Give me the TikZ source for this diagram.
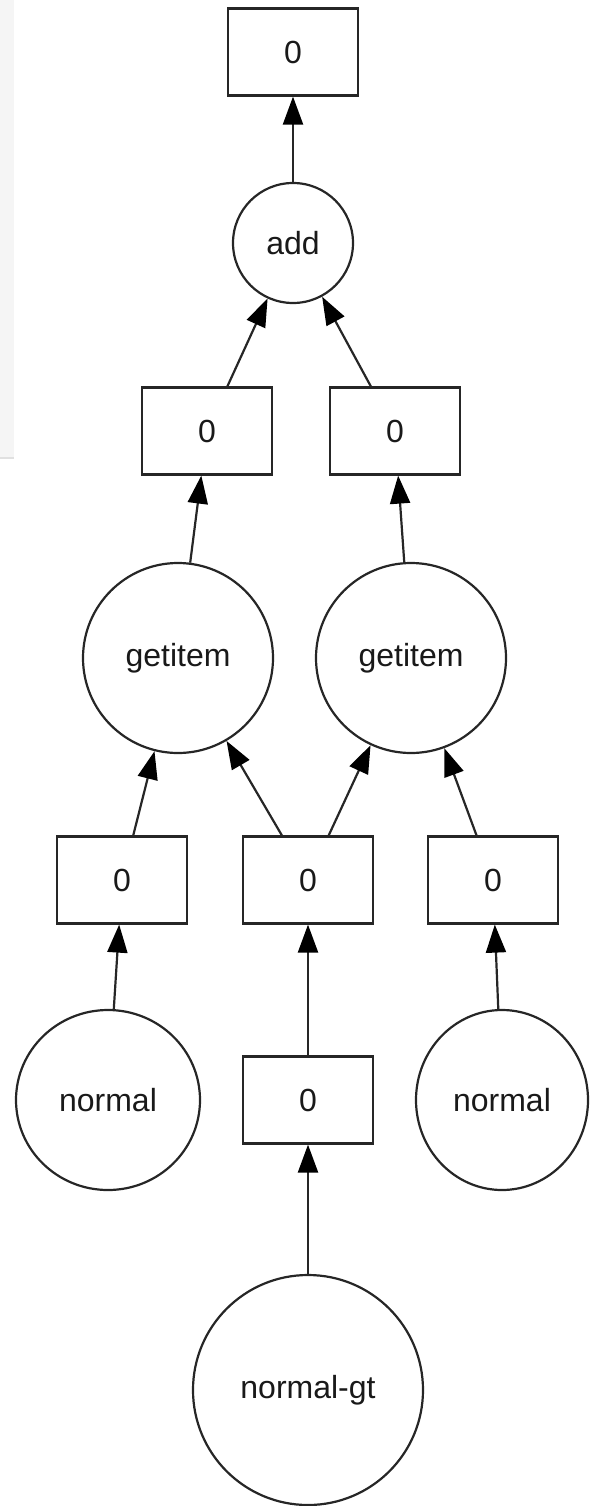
\documentclass[tikz,border=0pt]{standalone}
\usepackage{fontspec}
\setmainfont{Liberation Sans}
\usetikzlibrary{shapes.geometric,arrows.meta}
\begin{document}
\begin{tikzpicture}[x=1pt,y=-1pt,
  every node/.style={font=\fontsize{32}{36}\selectfont, inner sep=0pt, line width=2.2pt, draw=black!85, text=black!90},
  boxnode/.style={rectangle, minimum width=130pt, minimum height=87pt},
  opnode/.style={ellipse},
  edge/.style={line width=2.2pt, draw=black!85, -{Triangle[length=28pt,width=20pt,color=black]}}]
\path[use as bounding box] (0,0) rectangle (589,1506);
\fill[black!4] (0,0) rectangle (14,457);
\fill[black!12] (0,457) rectangle (14,459);
% nodes
\node[boxnode] (top) at (293,52) {0};
\node[opnode, minimum width=120pt, minimum height=120pt] (add) at (293,243) {add};
\node[boxnode] (b2l) at (207,431) {0};
\node[boxnode] (b2r) at (395,431) {0};
\node[opnode, minimum width=190pt, minimum height=190pt] (gl) at (178,658) {getitem};
\node[opnode, minimum width=190pt, minimum height=190pt] (gr) at (411,658) {getitem};
\node[boxnode] (b4l) at (122,880) {0};
\node[boxnode] (b4m) at (308,880) {0};
\node[boxnode] (b4r) at (493,880) {0};
\node[opnode, minimum width=184pt, minimum height=180pt] (nl) at (108,1100) {normal};
\node[boxnode] (b5m) at (308,1100) {0};
\node[opnode, minimum width=172pt, minimum height=180pt] (nr) at (502,1100) {normal};
\node[opnode, minimum width=230pt, minimum height=230pt] (ngt) at (308,1390) {normal-gt};
% edges
\draw[edge] (add) -- (top);
\draw[edge] (b2l) -- (add);
\draw[edge] (b2r) -- (add);
\draw[edge] (gl) -- (b2l);
\draw[edge] (gr) -- (b2r);
\draw[edge] (b4l) -- (gl);
\draw[edge] (b4m) -- (gl);
\draw[edge] (b4m) -- (gr);
\draw[edge] (b4r) -- (gr);
\draw[edge] (nl) -- (b4l);
\draw[edge] (b5m) -- (b4m);
\draw[edge] (nr) -- (b4r);
\draw[edge] (ngt) -- (b5m);
\end{tikzpicture}
\end{document}
